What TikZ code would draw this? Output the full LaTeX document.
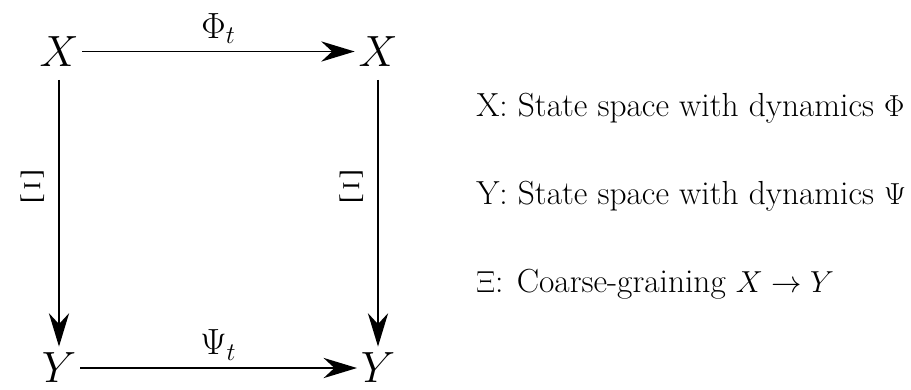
\documentclass[tikz,border=0pt]{standalone}
\usepackage{amsmath}
\usepackage{tikz}
\usetikzlibrary{arrows.meta, positioning}

\begin{document}
\begin{tikzpicture}[
    node distance=6.33cm and 6.38cm,
    space/.style={inner sep=0.5pt, font=\fontsize{30}{34}\selectfont},
    maplabel/.style={inner sep=2pt, font=\fontsize{22}{26}\selectfont},
    projlabel/.style={inner sep=2pt, font=\fontsize{29}{33}\selectfont},
    desc/.style={inner sep=0pt, anchor=base west, font=\fontsize{19}{22}\selectfont},
    arrow/.style={-{Stealth[length=19pt, width=11.5pt]}, line width=1.1pt}
]
    \useasboundingbox (0,0) rectangle (18.22,-7.78);

    % Square of spaces
    \node[space] (xa) at (1.18,-1.03) {$X$};
    \node[space, on grid, right=of xa] (xb) {$X$};
    \node[space, on grid, below=of xa] (ya) {$Y$};
    \node[space, on grid, right=of ya] (yb) {$Y$};

    % Arrows
    \draw[arrow, shorten <=1.5pt, shorten >=1.5pt] (xa) -- node[maplabel, above=2pt] (phi) {$\Phi_t$} (xb);
    \draw[arrow, shorten <=1.5pt, shorten >=1.5pt] (ya) -- node[maplabel, above=2pt] (psi) {$\Psi_t$} (yb);
    \draw[arrow, shorten <=7pt, shorten >=3pt] (xa) -- node[projlabel, pos=0.42, left=5pt] (xia) {$\Xi$} (ya);
    \draw[arrow, shorten <=7pt, shorten >=3pt] (xb) -- node[projlabel, pos=0.42, left=5pt] (xib) {$\Xi$} (yb);

    % Legend
    \node[desc] (dx) at (9.52,-2.32) {X: State space with dynamics $\Phi$};
    \node[desc, below=1.76cm of dx.base west, anchor=base west] (dy) {Y: State space with dynamics $\Psi$};
    \node[desc, below=1.76cm of dy.base west, anchor=base west] (dxi) {$\Xi$: Coarse-graining $X \rightarrow Y$};

\end{tikzpicture}
\end{document}
